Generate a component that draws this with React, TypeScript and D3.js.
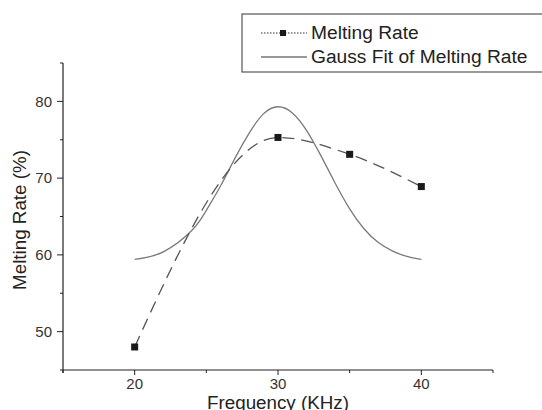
import React from 'react';
import * as d3 from 'd3';

// measured points
const frequency = [20, 30, 35, 40];
const meltingRate = [48.0, 75.3, 73.1, 68.9];

// Gauss fit curve
const fitFrequency = [20, 22, 24, 25, 26, 27, 28, 29, 30, 31, 32, 33, 34, 35, 36, 37, 38, 39, 40];
const fitRate = [59.4, 60.4, 63.2, 65.8, 69.0, 72.6, 75.9, 78.4, 79.3, 78.5, 76.2, 72.9, 69.3, 66.0, 63.4, 61.6, 60.5, 59.8, 59.4];

const xMajorTicks = [20, 30, 40];
const xMinorTicks = [15, 25, 35, 45];
const yMajorTicks = [50, 60, 70, 80];
const yMinorTicks = [45, 55, 65, 75, 85];

const legendLabels = ['Melting Rate', 'Gauss Fit of Melting Rate'];

const W = 542;
const H = 410;
const FONT = '"Liberation Sans", Arial, sans-serif';

export default function App() {
  const x = d3.scaleLinear().domain([15, 45]).range([63, 493]);
  const y = d3.scaleLinear().domain([45, 85]).range([370, 63]);

  const measured = frequency.map((f, i) => [f, meltingRate[i]] as [number, number]);
  const fit = fitFrequency.map((f, i) => [f, fitRate[i]] as [number, number]);

  const dataLine = d3.line<[number, number]>()
    .x(d => x(d[0]))
    .y(d => y(d[1]))
    .curve(d3.curveMonotoneX);
  const fitLine = d3.line<[number, number]>()
    .x(d => x(d[0]))
    .y(d => y(d[1]))
    .curve(d3.curveNatural);

  const [x0, x1] = x.range();
  const [y0, y1] = y.range();

  return (
    <svg width={W} height={H} style={{ position: 'absolute', left: 0, top: 0 }} fontFamily={FONT}>
      <rect width={W} height={H} fill="#fff" />

      {/* curves */}
      <path d={fitLine(fit) || ''} fill="none" stroke="#7a7a7a" strokeWidth={1.3} />
      <path d={dataLine(measured) || ''} fill="none" stroke="#555" strokeWidth={1.3} strokeDasharray="12,7" />
      {measured.map((d, i) => (
        <rect key={i} x={x(d[0]) - 3.5} y={y(d[1]) - 3.5} width={7} height={7} fill="#1a1a1a" />
      ))}

      {/* axes */}
      <line x1={x0} x2={x1} y1={y0} y2={y0} stroke="#222" strokeWidth={1.2} />
      <line x1={x0} x2={x0} y1={y0 + 3} y2={y1} stroke="#222" strokeWidth={1.2} />
      {xMajorTicks.map(t => (
        <g key={t}>
          <line x1={x(t)} x2={x(t)} y1={y0} y2={y0 + 5} stroke="#222" />
          <text x={x(t)} y={389} textAnchor="middle" fontSize={15} fill="#333">{t}</text>
        </g>
      ))}
      {xMinorTicks.map(t => (
        <line key={t} x1={x(t)} x2={x(t)} y1={y0} y2={y0 + 3} stroke="#222" />
      ))}
      {yMajorTicks.map(t => (
        <g key={t}>
          <line x1={x0 - 6} x2={x0} y1={y(t)} y2={y(t)} stroke="#222" />
          <text x={52} y={y(t) + 5.3} textAnchor="end" fontSize={15} fill="#333">{t}</text>
        </g>
      ))}
      {yMinorTicks.map(t => (
        <line key={t} x1={x0 - 3} x2={x0} y1={y(t)} y2={y(t)} stroke="#222" />
      ))}

      <text transform="translate(26,220) rotate(-90)" textAnchor="middle" fontSize={18.8} fill="#222">Melting Rate (%)</text>
      <text x={278} y={409} textAnchor="middle" fontSize={18.8} fill="#222">Frequency (KHz)</text>

      {/* legend */}
      <rect x={242} y={14} width={320} height={58} fill="#fff" stroke="#555" strokeWidth={1.2} />
      <line x1={261} x2={307} y1={33} y2={33} stroke="#333" strokeDasharray="1.5,1.5" />
      <rect x={280} y={30} width={6} height={6} fill="#1a1a1a" />
      <text x={311} y={38.5} fontSize={19.2} fill="#222">{legendLabels[0]}</text>
      <line x1={261} x2={307} y1={57} y2={57} stroke="#333" strokeWidth={1.2} />
      <text x={311} y={63} fontSize={19.2} fill="#222">{legendLabels[1]}</text>
    </svg>
  );
}
